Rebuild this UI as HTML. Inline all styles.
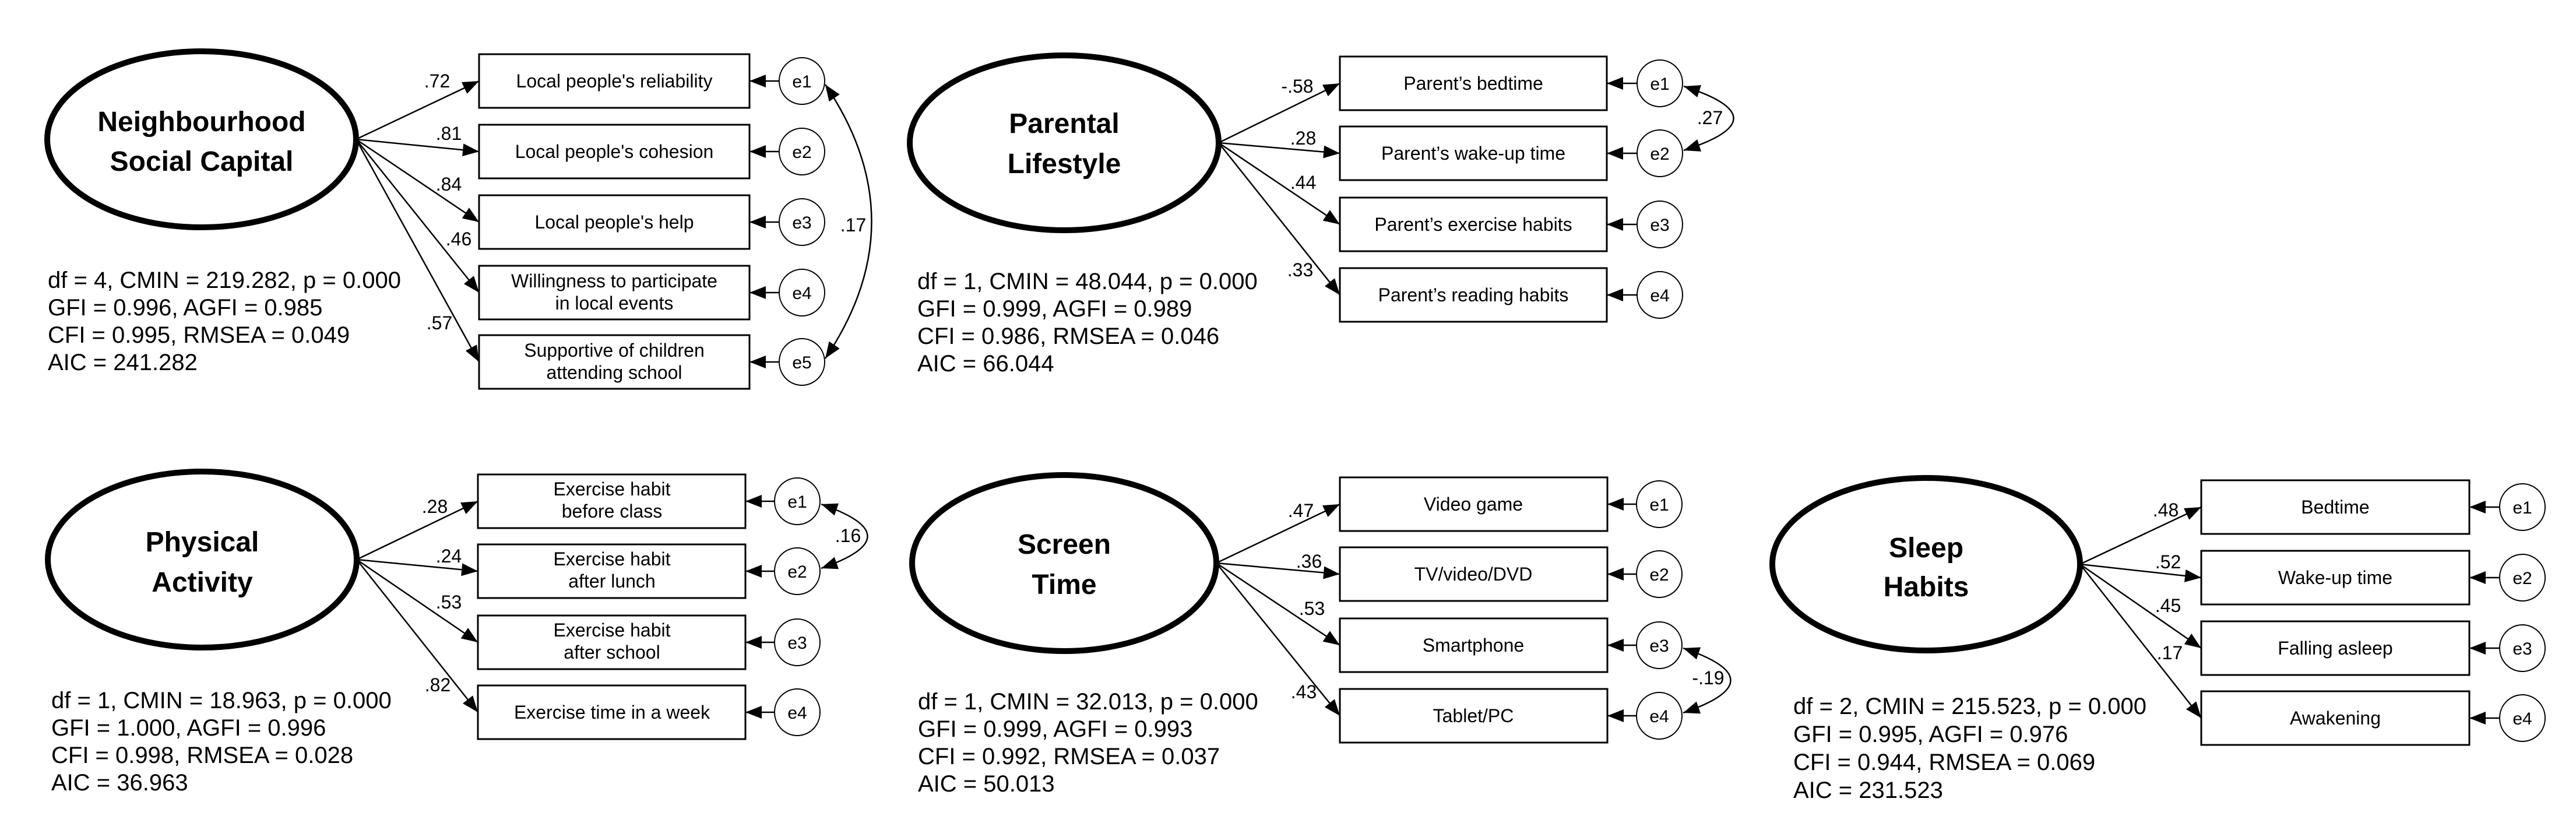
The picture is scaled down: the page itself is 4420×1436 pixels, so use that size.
<!DOCTYPE html>
<html><head><meta charset="utf-8">
<style>
html,body{margin:0;padding:0;background:#fff;}
svg{display:block;}
text{font-family:"Liberation Sans",Arial,sans-serif;fill:#000;}
.t{font-weight:bold;font-size:48px;text-anchor:middle;}
.b{font-size:32px;text-anchor:middle;}
.e{font-size:30px;text-anchor:middle;}
.l{font-size:32px;text-anchor:middle;}
.s{font-size:40px;}
.el{fill:#fff;stroke:#000;stroke-width:10;}
.bx{fill:#fff;stroke:#000;stroke-width:3;}
.c{fill:#fff;stroke:#000;stroke-width:2;}
.ln{stroke:#000;stroke-width:2.5;fill:none;}
.cv{stroke:#000;stroke-width:2.5;fill:none;}
</style></head><body>
<svg width="4420" height="1436" viewBox="0 0 4420 1436" xmlns="http://www.w3.org/2000/svg">
<defs>
<marker id="a" markerUnits="userSpaceOnUse" markerWidth="30" markerHeight="24" refX="28" refY="11" orient="auto-start-reverse"><path d="M0,0 L28,11 L0,22 z" fill="#000"/></marker>
</defs>

<!-- Panel 1 -->
<g>
<ellipse class="el" cx="346" cy="239" rx="265" ry="151"/>
<text class="t" x="346" y="225">Neighbourhood</text>
<text class="t" x="346" y="293">Social Capital</text>
<line class="ln" x1="611" y1="239" x2="822" y2="139" marker-end="url(#a)"/>
<line class="ln" x1="611" y1="239" x2="822" y2="260" marker-end="url(#a)"/>
<line class="ln" x1="611" y1="239" x2="822" y2="381" marker-end="url(#a)"/>
<line class="ln" x1="611" y1="239" x2="822" y2="502" marker-end="url(#a)"/>
<line class="ln" x1="611" y1="239" x2="822" y2="621" marker-end="url(#a)"/>
<rect class="bx" x="822" y="93" width="464" height="92"/>
<rect class="bx" x="822" y="214" width="464" height="92"/>
<rect class="bx" x="822" y="335" width="464" height="92"/>
<rect class="bx" x="822" y="456" width="464" height="92"/>
<rect class="bx" x="822" y="575" width="464" height="92"/>
<text class="b" x="1054" y="150">Local people's reliability</text>
<text class="b" x="1054" y="271">Local people's cohesion</text>
<text class="b" x="1054" y="392">Local people's help</text>
<text class="b" x="1054" y="493">Willingness to participate</text>
<text class="b" x="1054" y="531">in local events</text>
<text class="b" x="1054" y="612">Supportive of children</text>
<text class="b" x="1054" y="650">attending school</text>
<ellipse class="c" cx="1376" cy="139" rx="39" ry="40"/><text class="e" x="1376" y="150">e1</text>
<ellipse class="c" cx="1376" cy="260" rx="39" ry="40"/><text class="e" x="1376" y="271">e2</text>
<ellipse class="c" cx="1376" cy="381" rx="39" ry="40"/><text class="e" x="1376" y="392">e3</text>
<ellipse class="c" cx="1376" cy="502" rx="39" ry="40"/><text class="e" x="1376" y="513">e4</text>
<ellipse class="c" cx="1376" cy="621" rx="39" ry="40"/><text class="e" x="1376" y="632">e5</text>
<line class="ln" x1="1337" y1="139" x2="1286" y2="139" marker-end="url(#a)"/>
<line class="ln" x1="1337" y1="260" x2="1286" y2="260" marker-end="url(#a)"/>
<line class="ln" x1="1337" y1="381" x2="1286" y2="381" marker-end="url(#a)"/>
<line class="ln" x1="1337" y1="502" x2="1286" y2="502" marker-end="url(#a)"/>
<line class="ln" x1="1337" y1="621" x2="1286" y2="621" marker-end="url(#a)"/>
<path class="cv" d="M1416,145 Q1575,380 1416,615" marker-start="url(#a)" marker-end="url(#a)"/>
<text class="l" x="1464" y="397">.17</text>
<text class="l" x="750" y="150">.72</text>
<text class="l" x="770" y="240">.81</text>
<text class="l" x="770" y="327">.84</text>
<text class="l" x="787" y="421">.46</text>
<text class="l" x="754" y="565">.57</text>
<text class="s" x="82" y="494">df = 4, CMIN = 219.282, p = 0.000</text>
<text class="s" x="82" y="541">GFI = 0.996, AGFI = 0.985</text>
<text class="s" x="82" y="588">CFI = 0.995, RMSEA = 0.049</text>
<text class="s" x="82" y="635">AIC = 241.282</text>
</g>

<!-- Panel 2 -->
<g>
<ellipse class="el" cx="1826" cy="245" rx="265" ry="150"/>
<text class="t" x="1826" y="228">Parental</text>
<text class="t" x="1826" y="297">Lifestyle</text>
<line class="ln" x1="2091" y1="245" x2="2299" y2="143" marker-end="url(#a)"/>
<line class="ln" x1="2091" y1="245" x2="2299" y2="263" marker-end="url(#a)"/>
<line class="ln" x1="2091" y1="245" x2="2299" y2="385" marker-end="url(#a)"/>
<line class="ln" x1="2091" y1="245" x2="2299" y2="506" marker-end="url(#a)"/>
<rect class="bx" x="2299" y="97" width="458" height="92"/>
<rect class="bx" x="2299" y="217" width="458" height="92"/>
<rect class="bx" x="2299" y="339" width="458" height="92"/>
<rect class="bx" x="2299" y="460" width="458" height="92"/>
<text class="b" x="2528" y="154">Parent’s bedtime</text>
<text class="b" x="2528" y="274">Parent’s wake-up time</text>
<text class="b" x="2528" y="396">Parent’s exercise habits</text>
<text class="b" x="2528" y="517">Parent’s reading habits</text>
<ellipse class="c" cx="2848" cy="143" rx="39" ry="40"/><text class="e" x="2848" y="154">e1</text>
<ellipse class="c" cx="2848" cy="263" rx="39" ry="40"/><text class="e" x="2848" y="274">e2</text>
<ellipse class="c" cx="2848" cy="385" rx="39" ry="40"/><text class="e" x="2848" y="396">e3</text>
<ellipse class="c" cx="2848" cy="506" rx="39" ry="40"/><text class="e" x="2848" y="517">e4</text>
<line class="ln" x1="2809" y1="143" x2="2757" y2="143" marker-end="url(#a)"/>
<line class="ln" x1="2809" y1="263" x2="2757" y2="263" marker-end="url(#a)"/>
<line class="ln" x1="2809" y1="385" x2="2757" y2="385" marker-end="url(#a)"/>
<line class="ln" x1="2809" y1="506" x2="2757" y2="506" marker-end="url(#a)"/>
<path class="cv" d="M2889,148 Q3060,203 2889,258" marker-start="url(#a)" marker-end="url(#a)"/>
<text class="l" x="2934" y="213">.27</text>
<text class="l" x="2226" y="159">-.58</text>
<text class="l" x="2236" y="248">.28</text>
<text class="l" x="2236" y="324">.44</text>
<text class="l" x="2231" y="474">.33</text>
<text class="s" x="1574" y="496">df = 1, CMIN = 48.044, p = 0.000</text>
<text class="s" x="1574" y="543">GFI = 0.999, AGFI = 0.989</text>
<text class="s" x="1574" y="590">CFI = 0.986, RMSEA = 0.046</text>
<text class="s" x="1574" y="637">AIC = 66.044</text>
</g>

<!-- Panel 4 Physical -->
<g>
<ellipse class="el" cx="347" cy="960" rx="265" ry="151"/>
<text class="t" x="347" y="946">Physical</text>
<text class="t" x="347" y="1015">Activity</text>
<line class="ln" x1="612" y1="960" x2="820" y2="860" marker-end="url(#a)"/>
<line class="ln" x1="612" y1="960" x2="820" y2="980" marker-end="url(#a)"/>
<line class="ln" x1="612" y1="960" x2="820" y2="1102" marker-end="url(#a)"/>
<line class="ln" x1="612" y1="960" x2="820" y2="1222" marker-end="url(#a)"/>
<rect class="bx" x="820" y="814" width="459" height="92"/>
<rect class="bx" x="820" y="934" width="459" height="92"/>
<rect class="bx" x="820" y="1056" width="459" height="92"/>
<rect class="bx" x="820" y="1176" width="459" height="92"/>
<text class="b" x="1050" y="850">Exercise habit</text>
<text class="b" x="1050" y="888">before class</text>
<text class="b" x="1050" y="970">Exercise habit</text>
<text class="b" x="1050" y="1008">after lunch</text>
<text class="b" x="1050" y="1092">Exercise habit</text>
<text class="b" x="1050" y="1130">after school</text>
<text class="b" x="1050" y="1233">Exercise time in a week</text>
<ellipse class="c" cx="1368" cy="860" rx="39" ry="40"/><text class="e" x="1368" y="871">e1</text>
<ellipse class="c" cx="1368" cy="980" rx="39" ry="40"/><text class="e" x="1368" y="991">e2</text>
<ellipse class="c" cx="1368" cy="1102" rx="39" ry="40"/><text class="e" x="1368" y="1113">e3</text>
<ellipse class="c" cx="1368" cy="1222" rx="39" ry="40"/><text class="e" x="1368" y="1233">e4</text>
<line class="ln" x1="1329" y1="860" x2="1279" y2="860" marker-end="url(#a)"/>
<line class="ln" x1="1329" y1="980" x2="1279" y2="980" marker-end="url(#a)"/>
<line class="ln" x1="1329" y1="1102" x2="1279" y2="1102" marker-end="url(#a)"/>
<line class="ln" x1="1329" y1="1222" x2="1279" y2="1222" marker-end="url(#a)"/>
<path class="cv" d="M1409,865 Q1568,920 1409,975" marker-start="url(#a)" marker-end="url(#a)"/>
<text class="l" x="1455" y="930">.16</text>
<text class="l" x="746" y="880">.28</text>
<text class="l" x="770" y="965">.24</text>
<text class="l" x="770" y="1044">.53</text>
<text class="l" x="751" y="1186">.82</text>
<text class="s" x="88" y="1215">df = 1, CMIN = 18.963, p = 0.000</text>
<text class="s" x="88" y="1262">GFI = 1.000, AGFI = 0.996</text>
<text class="s" x="88" y="1309">CFI = 0.998, RMSEA = 0.028</text>
<text class="s" x="88" y="1356">AIC = 36.963</text>
</g>

<!-- Panel 5 Screen -->
<g>
<ellipse class="el" cx="1826" cy="966" rx="261" ry="151"/>
<text class="t" x="1826" y="950">Screen</text>
<text class="t" x="1826" y="1019">Time</text>
<line class="ln" x1="2087" y1="966" x2="2299" y2="865" marker-end="url(#a)"/>
<line class="ln" x1="2087" y1="966" x2="2299" y2="985" marker-end="url(#a)"/>
<line class="ln" x1="2087" y1="966" x2="2299" y2="1107" marker-end="url(#a)"/>
<line class="ln" x1="2087" y1="966" x2="2299" y2="1228" marker-end="url(#a)"/>
<rect class="bx" x="2299" y="819" width="459" height="92"/>
<rect class="bx" x="2299" y="939" width="459" height="92"/>
<rect class="bx" x="2299" y="1061" width="459" height="92"/>
<rect class="bx" x="2299" y="1182" width="459" height="92"/>
<text class="b" x="2528" y="876">Video game</text>
<text class="b" x="2528" y="996">TV/video/DVD</text>
<text class="b" x="2528" y="1118">Smartphone</text>
<text class="b" x="2528" y="1239">Tablet/PC</text>
<ellipse class="c" cx="2847" cy="865" rx="39" ry="40"/><text class="e" x="2847" y="876">e1</text>
<ellipse class="c" cx="2847" cy="985" rx="39" ry="40"/><text class="e" x="2847" y="996">e2</text>
<ellipse class="c" cx="2847" cy="1107" rx="39" ry="40"/><text class="e" x="2847" y="1118">e3</text>
<ellipse class="c" cx="2847" cy="1228" rx="39" ry="40"/><text class="e" x="2847" y="1239">e4</text>
<line class="ln" x1="2808" y1="865" x2="2758" y2="865" marker-end="url(#a)"/>
<line class="ln" x1="2808" y1="985" x2="2758" y2="985" marker-end="url(#a)"/>
<line class="ln" x1="2808" y1="1107" x2="2758" y2="1107" marker-end="url(#a)"/>
<line class="ln" x1="2808" y1="1228" x2="2758" y2="1228" marker-end="url(#a)"/>
<path class="cv" d="M2888,1112 Q3051,1167 2888,1223" marker-start="url(#a)" marker-end="url(#a)"/>
<text class="l" x="2931" y="1174">-.19</text>
<text class="l" x="2232" y="887">.47</text>
<text class="l" x="2246" y="974">.36</text>
<text class="l" x="2251" y="1055">.53</text>
<text class="l" x="2237" y="1198">.43</text>
<text class="s" x="1575" y="1217">df = 1, CMIN = 32.013, p = 0.000</text>
<text class="s" x="1575" y="1264">GFI = 0.999, AGFI = 0.993</text>
<text class="s" x="1575" y="1311">CFI = 0.992, RMSEA = 0.037</text>
<text class="s" x="1575" y="1358">AIC = 50.013</text>
</g>

<!-- Panel 3 Sleep -->
<g>
<ellipse class="el" cx="3305" cy="968" rx="264" ry="148"/>
<text class="t" x="3305" y="956">Sleep</text>
<text class="t" x="3305" y="1023">Habits</text>
<line class="ln" x1="3569" y1="968" x2="3777" y2="870" marker-end="url(#a)"/>
<line class="ln" x1="3569" y1="968" x2="3777" y2="991" marker-end="url(#a)"/>
<line class="ln" x1="3569" y1="968" x2="3777" y2="1112" marker-end="url(#a)"/>
<line class="ln" x1="3569" y1="968" x2="3777" y2="1232" marker-end="url(#a)"/>
<rect class="bx" x="3777" y="824" width="460" height="92"/>
<rect class="bx" x="3777" y="945" width="460" height="92"/>
<rect class="bx" x="3777" y="1066" width="460" height="92"/>
<rect class="bx" x="3777" y="1186" width="460" height="92"/>
<text class="b" x="4007" y="881">Bedtime</text>
<text class="b" x="4007" y="1002">Wake-up time</text>
<text class="b" x="4007" y="1123">Falling asleep</text>
<text class="b" x="4007" y="1243">Awakening</text>
<ellipse class="c" cx="4328" cy="870" rx="39" ry="40"/><text class="e" x="4328" y="881">e1</text>
<ellipse class="c" cx="4328" cy="991" rx="39" ry="40"/><text class="e" x="4328" y="1002">e2</text>
<ellipse class="c" cx="4328" cy="1112" rx="39" ry="40"/><text class="e" x="4328" y="1123">e3</text>
<ellipse class="c" cx="4328" cy="1232" rx="39" ry="40"/><text class="e" x="4328" y="1243">e4</text>
<line class="ln" x1="4289" y1="870" x2="4237" y2="870" marker-end="url(#a)"/>
<line class="ln" x1="4289" y1="991" x2="4237" y2="991" marker-end="url(#a)"/>
<line class="ln" x1="4289" y1="1112" x2="4237" y2="1112" marker-end="url(#a)"/>
<line class="ln" x1="4289" y1="1232" x2="4237" y2="1232" marker-end="url(#a)"/>
<text class="l" x="3716" y="886">.48</text>
<text class="l" x="3720" y="975">.52</text>
<text class="l" x="3720" y="1050">.45</text>
<text class="l" x="3723" y="1131">.17</text>
<text class="s" x="3077" y="1225">df = 2, CMIN = 215.523, p = 0.000</text>
<text class="s" x="3077" y="1273">GFI = 0.995, AGFI = 0.976</text>
<text class="s" x="3077" y="1321">CFI = 0.944, RMSEA = 0.069</text>
<text class="s" x="3077" y="1369">AIC = 231.523</text>
</g>
</svg>
</body></html>
